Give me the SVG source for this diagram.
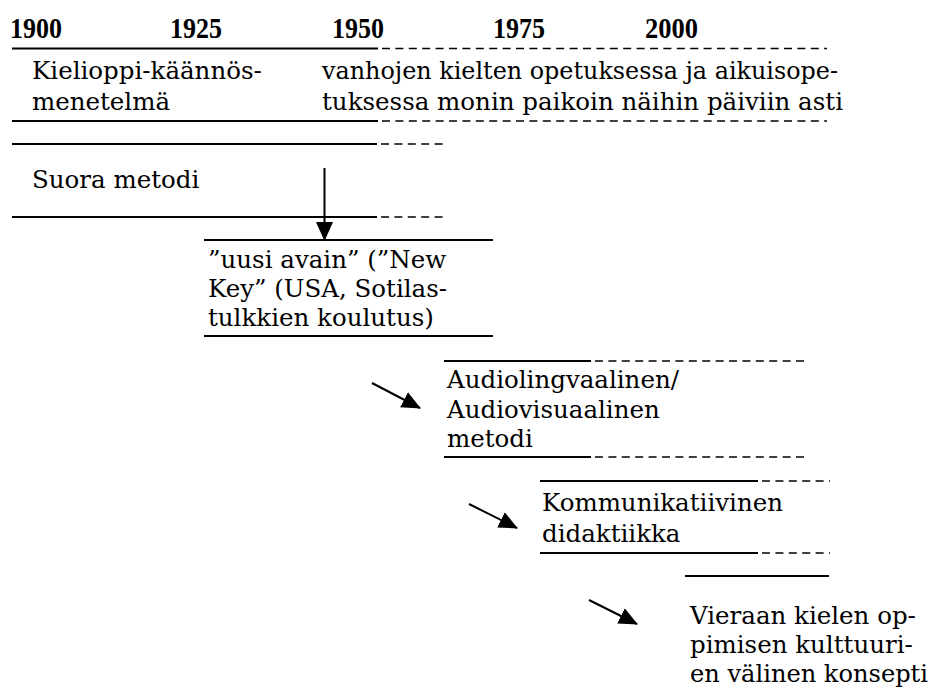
<svg xmlns="http://www.w3.org/2000/svg" width="932" height="692" viewBox="0 0 932 692">
<style>
.bg{fill:#fff}
.yr{font-family:"Liberation Serif","Times New Roman",serif;font-weight:bold;font-size:29px;fill:#000}
.t{font-family:"DejaVu Serif","Liberation Serif",serif;font-size:24.5px;fill:#000}
.s{stroke:#000;stroke-width:2;fill:none}
.d{stroke:#000;stroke-width:1.5;fill:none;stroke-dasharray:8 5.4}
.a{stroke:#000;stroke-width:2;fill:none;marker-end:url(#ah)}
</style>
<defs>
<marker id="ah" markerUnits="userSpaceOnUse" markerWidth="19" markerHeight="18" viewBox="0 0 19 18" refX="18" refY="9" orient="auto">
<path d="M0,0.5 L19,9 L0,17.5 z" fill="#000"/>
</marker>
</defs>
<rect class="bg" x="0" y="0" width="932" height="692"/>
<g id="axis">
<text class="yr" x="10" y="37.5" textLength="52" lengthAdjust="spacingAndGlyphs">1900</text>
<text class="yr" x="170" y="37.5" textLength="52" lengthAdjust="spacingAndGlyphs">1925</text>
<text class="yr" x="332" y="37.5" textLength="52" lengthAdjust="spacingAndGlyphs">1950</text>
<text class="yr" x="493" y="37.5" textLength="52" lengthAdjust="spacingAndGlyphs">1975</text>
<text class="yr" x="645" y="37.5" textLength="53" lengthAdjust="spacingAndGlyphs">2000</text>
</g>
<g id="node-kielioppi">
<line class="s" x1="12" y1="48.5" x2="378" y2="48.5"/>
<line class="d" x1="382" y1="48.5" x2="827" y2="48.5"/>
<text class="t" x="32" y="79">Kielioppi-käännös-</text>
<text class="t" x="32" y="110">menetelmä</text>
<line class="s" x1="12" y1="121" x2="378" y2="121"/>
<line class="d" x1="382" y1="121" x2="827" y2="121"/>
</g>
<g id="node-vanhojen">
<text class="t" x="322" y="79" textLength="516" lengthAdjust="spacingAndGlyphs">vanhojen kielten opetuksessa ja aikuisope-</text>
<text class="t" x="322" y="110" textLength="521" lengthAdjust="spacingAndGlyphs">tuksessa monin paikoin näihin päiviin asti</text>
</g>
<g id="node-suora">
<line class="s" x1="12" y1="144" x2="377" y2="144"/>
<line class="d" x1="381" y1="144" x2="446" y2="144"/>
<text class="t" x="32" y="188">Suora metodi</text>
<line class="s" x1="12" y1="217" x2="377" y2="217"/>
<line class="d" x1="381" y1="217" x2="446" y2="217"/>
</g>
<g id="node-uusi">
<line class="s" x1="204" y1="240" x2="493" y2="240"/>
<text class="t" x="208" y="268">”uusi avain” (”New</text>
<text class="t" x="208" y="297">Key” (USA, Sotilas-</text>
<text class="t" x="208" y="326">tulkkien koulutus)</text>
<line class="s" x1="204" y1="336" x2="493" y2="336"/>
</g>
<g id="node-audio">
<line class="s" x1="444" y1="361" x2="591" y2="361"/>
<line class="d" x1="595" y1="361" x2="808" y2="361"/>
<text class="t" x="447" y="388">Audiolingvaalinen/</text>
<text class="t" x="447" y="418">Audiovisuaalinen</text>
<text class="t" x="447" y="447">metodi</text>
<line class="s" x1="444" y1="457" x2="591" y2="457"/>
<line class="d" x1="595" y1="457" x2="808" y2="457"/>
</g>
<g id="node-kommunikatiivinen">
<line class="s" x1="540" y1="481" x2="758" y2="481"/>
<line class="d" x1="762" y1="481" x2="830" y2="481"/>
<text class="t" x="542" y="511">Kommunikatiivinen</text>
<text class="t" x="542" y="542">didaktiikka</text>
<line class="s" x1="540" y1="553" x2="758" y2="553"/>
<line class="d" x1="762" y1="553" x2="830" y2="553"/>
</g>
<g id="node-vieraan">
<line class="s" x1="685" y1="576" x2="829" y2="576"/>
<text class="t" x="690" y="624">Vieraan kielen op-</text>
<text class="t" x="690" y="653">pimisen kulttuuri-</text>
<text class="t" x="690" y="682" textLength="238" lengthAdjust="spacingAndGlyphs">en välinen konsepti</text>
</g>
<g id="connectors">
<line class="a" x1="324.5" y1="168" x2="324.5" y2="240"/>
<line class="a" x1="372" y1="383" x2="420" y2="408"/>
<line class="a" x1="469" y1="504" x2="517" y2="528"/>
<line class="a" x1="589" y1="600" x2="637" y2="624"/>
</g>
</svg>
